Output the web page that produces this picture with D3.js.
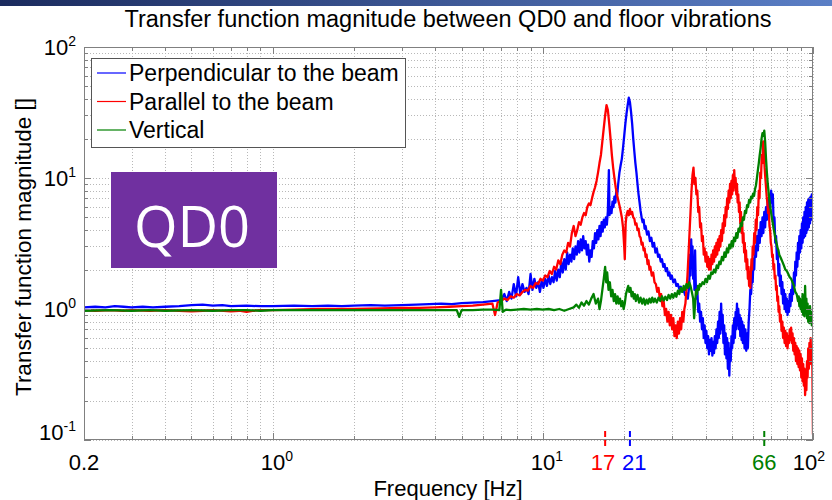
<!DOCTYPE html>
<html><head><meta charset="utf-8">
<script src="https://cdn.jsdelivr.net/npm/d3@7"></script>
<style>body{margin:0;background:#fff}svg{display:block}text{font-family:"Liberation Sans",Arial,sans-serif}</style>
</head><body><svg id="c" width="832" height="500"></svg>
<script>
const title = "Transfer function magnitude between QD0 and floor vibrations";
const xLabel = "Frequency [Hz]";
const yLabel = "Transfer function magnitude []";
const seriesNames = ["Perpendicular to the beam","Parallel to the beam","Vertical"];
const seriesColors = ["#0000ff","#ff0000","#008000"];
const xTickValues = [0.2,1,10,100];
const xTickLabels = [["0.2",""],["10","0"],["10","1"],["10","2"]];
const yTickValues = [0.1,1,10,100];
const yTickExp = ["-1","0","1","2"];
const markFreqs = [17,21,66];
const markLabels = ["17","21","66"];
const markColors = ["#ff0000","#0000ff","#008000"];
const boxLabel = "QD0";

const blue = [[0.2,1.03],[0.22,1.04],[0.24,1.03],[0.26,1.05],[0.28,1.04],[0.3,1.03],[0.33,1.04],[0.36,1.03],[0.4,1.04],[0.45,1.05],[0.5,1.07],[0.55,1.08],[0.6,1.06],[0.65,1.07],[0.7,1.05],[0.8,1.06],[0.9,1.05],[1.0,1.05],[1.2,1.06],[1.4,1.05],[1.6,1.06],[1.8,1.05],[2.0,1.06],[2.3,1.07],[2.6,1.06],[3.0,1.07],[3.4,1.08],[3.8,1.09],[4.2,1.1],[4.6,1.09],[5.0,1.11],[5.5,1.12],[6.0,1.13],[6.5,1.15],
[7.0,1.17],[7.2,1.3],[7.35,1.15],[7.5,1.35],[7.65,1.2],[7.8,1.55],[7.95,1.25],[8.1,1.75],[8.25,1.3],[8.4,1.55],[8.55,1.35],[8.7,1.45],[8.85,1.3],[9.0,1.85],[9.15,1.4],[9.3,1.7],[9.45,1.45],[9.6,1.6],[9.75,1.35],[9.9,1.65],[10.05,1.45],[10.2,1.7],[10.35,1.5],[10.5,1.8],[10.65,1.55],[10.8,1.75],[10.95,1.6],[11.1,1.95],[11.25,1.65],[11.4,2.0],[11.55,1.75],[11.7,2.3],[11.85,1.9],[12.0,2.4],[12.15,2.0],[12.3,2.7],[12.45,2.2],[12.6,2.6],[12.75,2.3],[12.9,2.9],[13.05,2.4],[13.2,3.0],[13.35,2.6],[13.5,3.3],[13.65,2.7],[13.8,3.4],[13.95,2.8],[14.1,3.6],[14.25,2.9],[14.4,3.3],[14.55,2.6],[14.7,3.1],[14.85,2.3],[15.0,2.8],[15.15,2.5],[15.3,3.3],[15.45,2.9],[15.6,3.8],[15.75,3.2],[15.9,4.0],[16.05,3.4],[16.2,4.3],[16.35,3.6],[16.5,4.6],[16.65,3.9],[16.8,4.8],[16.95,4.2],[17.1,5.0],[17.25,4.4],[17.4,5.6],[17.55,11.5],[17.65,5.2],[17.8,6.0],[17.95,5.4],[18.1,6.6],[18.25,6.0],[18.4,7.2],[18.55,6.5],[18.7,8.0],[18.85,7.5],[19.0,9.0],[19.2,11],[19.4,12.5],[19.6,14],[19.8,17],[20.0,21],[20.2,26],[20.4,31],[20.6,36],[20.8,41],[21.0,38],[21.2,32],[21.4,26],[21.6,20],[21.8,16],[22.0,13],[22.2,11],[22.4,9],[22.6,7.5],[22.8,6.5],[23.0,5.6],[23.2,5.0],[23.4,4.6],[23.6,4.8],[23.8,4.1],[24.0,4.3],[24.3,3.7],[24.6,3.9],[24.9,3.3],[25.2,3.5],[25.5,3.0],[25.8,3.2],[26.1,2.7],[26.4,2.9],[26.7,2.5],[27.0,2.6],[27.3,2.3],[27.6,2.4],[27.9,2.1],[28.2,2.2],[28.5,1.95],[28.8,2.05],[29.1,1.8],[29.4,1.9],[29.7,1.7],[30.0,1.8],[30.4,1.6],[30.8,1.68],[31.2,1.5],[31.6,1.55],[32.0,1.42],[32.4,1.48],[32.8,1.35],[33.2,1.4],[33.6,1.28],[34.0,1.32],[34.4,1.2],[34.8,1.5],[35.0,2.6],[35.2,1.8],[35.4,3.4],[35.6,2.4],[35.8,3.0],[36.0,1.7],[36.2,2.2],[36.4,1.4],[36.6,2.8],[36.8,1.6],[37.0,1.2],[37.3,1.4],[37.6,0.95],[37.9,1.1],[38.2,0.8],[38.5,0.95],[38.8,0.7],[39.1,0.85],[39.4,0.6],[39.7,0.75],[40.0,0.55],[40.3,0.68],[40.6,0.5],[40.9,0.62],[41.2,0.45],[41.5,0.58],[41.8,0.48],[42.1,0.6],[42.4,0.44],[42.7,0.56],[43.0,0.46],[43.3,0.62],[43.6,0.5],[43.9,0.7],[44.2,0.55],[44.5,0.8],[44.8,0.6],[45.1,0.95],[45.4,0.65],[45.7,1.1],[46.0,0.7],[46.3,0.9],[46.6,0.55],[46.9,0.75],[47.2,0.45],[47.5,0.65],[47.8,0.42],[48.1,0.6],[48.4,0.35],[48.7,0.55],[49.0,0.31],[49.3,0.5],[49.6,0.4],[49.9,0.62],[50.2,0.5],[50.5,0.75],[50.8,0.55],[51.1,0.85],[51.4,0.6],[51.7,0.95],[52.0,0.7],[52.3,1.1],[52.6,0.75],[52.9,1.0],[53.2,0.7],[53.5,0.9],[53.8,0.62],[54.1,0.85],[54.4,0.58],[54.7,0.8],[55.0,0.55],[55.4,0.75],[55.8,0.5],[56.2,0.7],[56.6,0.48],[57.0,0.65],[57.4,0.5],[57.8,0.8],[58.2,1.0],[58.6,1.4],[59.0,1.3],[59.4,1.8],[59.8,1.6],[60.2,2.4],[60.6,2.0],[61.0,3.0],[61.5,2.5],[62.0,3.6],[62.5,2.8],[63.0,4.0],[63.5,3.2],[64.0,4.6],[64.5,3.6],[65.0,5.0],[65.5,3.8],[66.0,5.5],[66.5,4.2],[67.0,6.0],[67.5,4.8],[68.0,6.8],[68.5,5.2],[69.0,7.2],[69.5,6.0],[70.0,8.0],[70.5,6.5],[71.0,7.5],[71.5,4.5],[72.0,5.0],[72.5,3.2],[73.0,3.6],[73.5,2.4],[74.0,2.8],[74.5,1.8],[75.0,2.2],[75.5,1.5],[76.0,1.8],[76.5,1.3],[77.0,1.6],[77.5,1.1],[78.0,1.4],[78.5,1.0],[79.0,1.3],[79.5,0.95],[80.0,1.2],[80.5,0.9],[81.0,1.15],[81.5,0.95],[82.0,1.3],[82.5,1.05],[83.0,1.4],[83.5,1.15],[84.0,1.6],[84.5,1.3],[85.0,1.9],[85.5,1.5],[86.0,2.3],[86.5,1.8],[87.0,2.7],[87.5,2.1],[88.0,3.2],[88.5,2.4],[89.0,3.6],[89.5,2.7],[90.0,4.0],[90.5,2.9],[91.0,4.5],[91.5,3.2],[92.0,5.0],[92.5,3.5],[93.0,5.5],[93.5,3.6],[94.0,6.0],[94.5,3.8],[95.0,6.5],[95.5,4.0],[96.0,6.8],[96.5,4.2],[97.0,7.0],[97.5,4.5],[98.0,7.2],[98.5,4.8],[99.0,7.5],[99.5,5.0],[100,6.5]];

const red = [[0.2,0.98],[0.22,0.97],[0.25,0.98],[0.28,0.97],[0.3,0.98],[0.35,0.97],[0.4,0.98],[0.45,0.97],[0.5,0.96],[0.55,0.97],[0.6,0.98],[0.7,0.96],[0.75,0.97],[0.8,0.95],[0.85,0.97],[0.9,0.98],[1.0,0.98],[1.2,0.99],[1.5,1.0],[2,1.0],[2.5,1.01],[3,1.02],[3.5,1.02],[4,1.03],[4.5,1.04],[5,1.05],[5.5,1.06],[6,1.08],
[6.5,1.1],[6.65,0.9],[6.8,1.12],[7.0,1.15],[7.2,1.2],[7.4,1.17],[7.6,1.25],[7.8,1.22],[8.0,1.3],[8.2,1.27],[8.4,1.35],[8.6,1.4],[8.8,1.38],[9.0,1.5],[9.2,1.45],[9.4,1.58],[9.6,1.55],[9.8,1.7],[10.0,1.65],[10.2,1.8],[10.4,1.75],[10.6,1.95],[10.8,1.85],[11.0,2.1],[11.2,2.0],[11.4,2.35],[11.6,2.2],[11.8,2.6],[12.0,2.8],[12.2,2.7],[12.4,3.2],[12.6,3.0],[12.8,3.8],[13.0,4.3],[13.2,3.6],[13.4,4.0],[13.6,4.6],[13.8,4.4],[14.0,5.0],[14.2,5.4],[14.4,5.2],[14.6,6.0],[14.8,6.4],[15.0,6.2],[15.2,7.0],[15.4,7.8],[15.6,8.5],[15.8,9.5],[16.0,11],[16.2,13],[16.4,15],[16.6,19],[16.8,24],[17.0,30],[17.2,36],[17.4,33],[17.6,26],[17.8,20],[18.0,15],[18.2,12],[18.4,10],[18.6,8.5],[18.8,7.5],[19.0,6.8],[19.2,6.2],[19.4,5.6],[19.6,5.0],[19.8,4.2],[20.0,3.0],[20.1,2.4],[20.25,4.5],[20.4,5.2],[20.6,5.6],[20.8,5.2],[21.0,5.8],[21.2,5.3],[21.4,5.5],[21.6,5.0],[21.8,4.9],[22.0,4.4],[22.2,4.5],[22.4,4.0],[22.6,4.1],[22.8,3.6],[23.0,3.5],[23.2,3.1],[23.4,3.2],[23.6,2.8],[23.8,2.9],[24.0,2.5],[24.2,2.6],[24.4,2.2],[24.6,2.35],[24.8,2.0],[25.0,2.1],[25.3,1.8],[25.6,1.9],[25.9,1.6],[26.2,1.55],[26.5,1.35],[26.8,1.45],[27.1,1.2],[27.4,1.3],[27.7,1.05],[28.0,1.15],[28.3,0.9],[28.6,1.0],[28.9,0.8],[29.2,0.95],[29.5,0.75],[29.8,0.9],[30.1,0.7],[30.4,0.85],[30.7,0.62],[31.0,0.75],[31.3,0.6],[31.6,0.8],[31.9,0.65],[32.2,0.85],[32.5,0.7],[32.8,0.95],[33.1,0.8],[33.4,1.0],[33.7,1.1],[34.0,1.4],[34.3,1.8],[34.6,2.6],[34.9,3.8],[35.2,5.5],[35.5,8],[35.8,10.5],[36.1,12],[36.4,9],[36.7,10],[37.0,7.5],[37.3,8],[37.6,5.5],[37.9,6],[38.2,4.2],[38.5,4.5],[38.8,3.3],[39.1,3.6],[39.4,2.6],[39.7,2.9],[40.0,2.3],[40.3,2.7],[40.6,2.1],[40.9,2.5],[41.2,2.0],[41.5,2.4],[41.8,2.0],[42.1,2.6],[42.4,2.2],[42.7,2.8],[43.0,2.3],[43.3,3.0],[43.6,2.5],[43.9,3.2],[44.2,2.6],[44.5,3.4],[44.8,2.8],[45.1,3.6],[45.4,3.0],[45.7,4.0],[46.0,3.3],[46.3,4.5],[46.6,3.8],[46.9,5.2],[47.2,4.3],[47.5,6.0],[47.8,5.0],[48.1,7.0],[48.4,5.8],[48.7,8.0],[49.0,6.5],[49.3,9.0],[49.6,7.0],[49.9,9.5],[50.2,7.5],[50.5,10.5],[50.8,8.0],[51.1,11.5],[51.4,8.5],[51.7,10],[52.0,7.5],[52.3,9],[52.6,6.5],[52.9,7.5],[53.2,5.5],[53.5,6.5],[53.8,4.5],[54.1,5.5],[54.4,3.8],[54.7,4.5],[55.0,3.2],[55.3,3.8],[55.6,2.7],[55.9,3.2],[56.2,2.3],[56.5,2.8],[56.8,2.0],[57.1,2.4],[57.4,1.7],[57.7,2.1],[58.0,1.5],[58.3,1.8],[58.6,1.45],[58.9,1.9],[59.2,2.4],[59.5,2.0],[59.8,3.0],[60.2,2.6],[60.6,3.8],[61.0,3.2],[61.4,4.8],[61.8,4.0],[62.2,6.0],[62.6,5.2],[63.0,8.0],[63.4,7.0],[63.8,11],[64.2,10],[64.6,15],[65.0,13],[65.4,19],[65.8,16],[66.2,12],[66.6,10],[67.0,8.5],[67.4,7.2],[67.8,6.4],[68.2,5.4],[68.6,5.8],[69.0,4.3],[69.4,4.0],[69.8,3.2],[70.2,3.0],[70.6,2.5],[71.0,2.6],[71.4,2.0],[71.8,2.2],[72.2,1.7],[72.6,1.8],[73.0,1.4],[73.4,1.5],[73.8,1.15],[74.2,1.25],[74.6,0.95],[75.0,1.05],[75.5,0.8],[76.0,0.9],[76.5,0.68],[77.0,0.8],[77.5,0.6],[78.0,0.72],[78.5,0.55],[79.0,0.68],[79.5,0.52],[80.0,0.65],[80.5,0.5],[81.0,0.62],[81.5,0.55],[82.0,0.7],[82.5,0.58],[83.0,0.72],[83.5,0.55],[84.0,0.65],[84.5,0.48],[85.0,0.6],[85.5,0.45],[86.0,0.55],[86.5,0.4],[87.0,0.52],[87.5,0.38],[88.0,0.5],[88.5,0.36],[89.0,0.48],[89.5,0.34],[90.0,0.45],[90.5,0.3],[91.0,0.42],[91.5,0.28],[92.0,0.38],[92.5,0.26],[93.0,0.35],[93.5,0.22],[94.0,0.3],[94.5,0.24],[95.0,0.4],[95.5,0.3],[96.0,0.5],[96.5,0.35],[97.0,0.55],[97.5,0.38],[98.0,0.6],[98.5,0.4],[99.0,0.5],[99.5,0.35],[100,0.11]];

const green = [[0.2,0.97],[0.25,0.98],[0.3,0.97],[0.35,0.98],[0.4,0.97],[0.5,0.98],[0.6,0.97],[0.7,0.98],[0.8,0.98],[0.9,0.97],[1,0.98],[1.3,0.98],[1.6,0.98],[2,0.98],[2.5,0.98],[3,0.98],[3.5,0.98],[4,0.98],[4.5,0.98],[4.8,0.98],[4.9,0.87],[5.0,0.98],[5.5,0.98],[6,0.99],[6.5,0.99],[6.9,0.98],[7.0,1.4],[7.1,0.95],[7.3,0.99],[7.6,0.98],[8,0.99],[8.5,1.0],[9,0.99],[9.5,1.0],[10,0.99],[10.5,1.0],[11,0.98],[11.5,1.0],[12,0.97],[12.5,1.0],
[13,1.03],[13.3,1.08],[13.6,1.02],[13.9,1.12],[14.2,1.06],[14.5,1.15],[14.8,1.08],[15.1,1.2],[15.4,1.3],[15.7,1.1],[16.0,1.2],[16.2,1.0],[16.4,1.15],[16.6,1.4],[16.8,1.7],[17.0,2.1],[17.15,1.6],[17.3,1.9],[17.5,1.4],[17.7,1.6],[17.9,1.25],[18.1,1.4],[18.3,1.15],[18.5,1.3],[18.7,1.1],[18.9,1.25],[19.1,1.1],[19.3,1.2],[19.5,1.05],[19.7,1.15],[19.9,1.0],[20.1,1.1],[20.3,1.3],[20.5,1.4],[20.7,1.5],[20.9,1.35],[21.1,1.45],[21.3,1.25],[21.5,1.35],[21.7,1.2],[21.9,1.3],[22.1,1.15],[22.4,1.28],[22.7,1.12],[23.0,1.22],[23.3,1.1],[23.6,1.2],[23.9,1.08],[24.2,1.18],[24.5,1.1],[24.8,1.2],[25.1,1.12],[25.4,1.22],[25.7,1.13],[26.0,1.2],[26.4,1.12],[26.8,1.22],[27.2,1.15],[27.6,1.25],[28.0,1.16],[28.4,1.24],[28.8,1.17],[29.2,1.28],[29.6,1.2],[30.0,1.3],[30.4,1.22],[30.8,1.32],[31.2,1.24],[31.6,1.38],[32.0,1.3],[32.4,1.45],[32.8,1.35],[33.2,1.5],[33.6,1.4],[34.0,1.55],[34.4,1.45],[34.8,1.6],[35.2,1.5],[35.6,1.35],[36.0,1.2],[36.3,0.85],[36.6,1.1],[36.9,1.4],[37.2,1.3],[37.5,1.5],[37.8,1.4],[38.1,1.55],[38.5,1.5],[39.0,1.6],[39.5,1.55],[40,1.7],[40.5,1.6],[41,1.8],[41.5,1.7],[42,1.9],[42.5,1.85],[43,2.0],[43.5,1.9],[44,2.15],[44.5,2.05],[45,2.3],[45.5,2.2],[46,2.5],[46.5,2.35],[47,2.7],[47.5,2.5],[48,2.9],[48.5,2.7],[49,3.1],[49.5,2.9],[50,3.3],[50.5,3.0],[51,3.5],[51.5,3.3],[52,3.8],[52.5,3.5],[53,4.1],[53.5,3.9],[54,4.5],[54.5,4.3],[55,5.0],[55.5,4.8],[56,5.6],[56.5,5.4],[57,6.2],[57.5,6.0],[58,6.8],[58.5,6.5],[59,7.2],[59.5,7.0],[60,7.6],[60.5,7.3],[61,8.2],[61.5,8.8],[62,10],[62.5,11.5],[63,13],[63.5,15],[64,17],[64.5,20],[65,22],[65.5,21],[66,23],[66.5,19],[67,14],[67.5,11],[68,9],[68.5,7.8],[69,6.8],[69.5,6],[70,5.4],[70.5,4.9],[71,4.5],[71.5,4.1],[72,3.8],[72.5,3.5],[73,3.3],[73.5,3.1],[74,2.9],[74.5,2.8],[75,2.6],[76,2.45],[77,2.3],[78,2.15],[79,2.0],[80,1.95],[81,1.85],[82,1.75],[83,1.7],[84,1.6],[85,1.5],[86,1.35],[87,1.3],[88,1.15],[88.5,1.25],[89,1.05],[89.5,1.2],[90,1.0],[90.5,1.1],[91,0.95],[91.5,1.3],[92,0.9],[92.5,1.15],[93,0.88],[93.5,1.5],[94,0.95],[94.5,1.2],[95,0.85],[95.5,1.1],[96,0.8],[96.5,1.0],[97,0.78],[97.5,1.05],[98,0.8],[98.5,0.95],[99,0.75],[99.5,0.9],[100,0.8]];

const series = [blue, red, green];

const svg = d3.select("#c");
const L=84,R=813,T=47,B=440;
const x = d3.scaleLog().domain([0.2,100]).range([L,R]);
const y = d3.scaleLog().domain([0.1,100]).range([B,T]);

const defs = svg.append("defs");
const g1 = defs.append("linearGradient").attr("id","band");
g1.append("stop").attr("offset","0").attr("stop-color","#1b2b5e");
g1.append("stop").attr("offset","1").attr("stop-color","#5b7fc6");
svg.append("rect").attr("x",0).attr("y",0).attr("width",832).attr("height",6).attr("fill","url(#band)");
defs.append("clipPath").attr("id","clip").append("rect").attr("x",L).attr("y",T).attr("width",R-L).attr("height",B-T);

svg.append("rect").attr("x",L).attr("y",T).attr("width",R-L).attr("height",B-T).attr("fill","#fff");

const xg = x.ticks().filter(v=>v>=0.2-1e-9);
const yg = y.ticks();
const grid = svg.append("g").attr("stroke","#b8b8b8").attr("stroke-width",1).attr("stroke-dasharray","1,2");
grid.selectAll("line.xg").data(xg).join("line").attr("x1",d=>Math.round(x(d))+0.5).attr("x2",d=>Math.round(x(d))+0.5).attr("y1",T).attr("y2",B);
grid.selectAll("line.yg").data(yg).join("line").attr("y1",d=>Math.round(y(d))+0.5).attr("y2",d=>Math.round(y(d))+0.5).attr("x1",L).attr("x2",R);

const line = d3.line().x(d=>x(d[0])).y(d=>y(d[1]));
const cg = svg.append("g").attr("clip-path","url(#clip)");
series.forEach((s,i)=>{
  cg.append("path").datum(s).attr("d",line).attr("fill","none").attr("stroke",seriesColors[i]).attr("stroke-width",2.3).attr("stroke-linejoin","round");
});

const ax = svg.append("g").attr("stroke","#808080").attr("stroke-width",1);
ax.append("rect").attr("x",L+0.5).attr("y",T+0.5).attr("width",R-L-1).attr("height",B-T-1).attr("fill","none");
const isMajor = v => Math.abs(Math.log10(v)-Math.round(Math.log10(v)))<1e-6;
xg.forEach(v=>{const len=isMajor(v)?7:4;const px=Math.round(x(v))+0.5;
  ax.append("line").attr("x1",px).attr("x2",px).attr("y1",B).attr("y2",B-len);
  ax.append("line").attr("x1",px).attr("x2",px).attr("y1",T).attr("y2",T+len);});
yg.forEach(v=>{const len=isMajor(v)?7:4;const py=Math.round(y(v))+0.5;
  ax.append("line").attr("y1",py).attr("y2",py).attr("x1",L).attr("x2",L+len);
  ax.append("line").attr("y1",py).attr("y2",py).attr("x1",R).attr("x2",R-len);});

const fs=22;
yTickValues.forEach((v,i)=>{
  const t=svg.append("text").attr("x",76).attr("y",y(v)+8 - (i===0?8:0)).attr("text-anchor","end").attr("font-size",fs).attr("fill","#000");
  t.append("tspan").text("10");
  t.append("tspan").attr("dy",-9).attr("font-size",14).text(yTickExp[i]);
});
const xShift=[0,4,4,-4];
xTickValues.forEach((v,i)=>{
  const t=svg.append("text").attr("x",x(v)+xShift[i]).attr("y",470).attr("text-anchor","middle").attr("font-size",fs).attr("fill","#000");
  t.append("tspan").text(xTickLabels[i][0]);
  if(xTickLabels[i][1]) t.append("tspan").attr("dy",-9).attr("font-size",14).text(xTickLabels[i][1]);
});
const markAnchor=["end","start","middle"], markDx=[10,-8,0];
markFreqs.forEach((f,i)=>{
  svg.append("line").attr("x1",x(f)).attr("x2",x(f)).attr("y1",431).attr("y2",447).attr("stroke",markColors[i]).attr("stroke-width",2).attr("stroke-dasharray","6,3");
  svg.append("text").attr("x",x(f)+markDx[i]).attr("y",470).attr("text-anchor",markAnchor[i]).attr("font-size",fs).attr("fill",markColors[i]).text(markLabels[i]);
});

svg.append("text").attr("x",448).attr("y",27).attr("text-anchor","middle").attr("font-size",23.5).text(title);
svg.append("text").attr("x",448).attr("y",496).attr("text-anchor","middle").attr("font-size",22).text(xLabel);
svg.append("text").attr("transform","translate(31,247) rotate(-90)").attr("text-anchor","middle").attr("font-size",22.5).text(yLabel);

const lg = svg.append("g");
lg.append("rect").attr("x",91.5).attr("y",58.5).attr("width",314).attr("height",89).attr("fill","#fff").attr("stroke","#555").attr("stroke-width",1);
seriesNames.forEach((n,i)=>{
  const yy=73+i*28.5;
  lg.append("line").attr("x1",97).attr("x2",126).attr("y1",yy).attr("y2",yy).attr("stroke",seriesColors[i]).attr("stroke-width",1.2);
  lg.append("text").attr("x",129).attr("y",yy+8).attr("font-size",23).text(n);
});

svg.append("rect").attr("x",111).attr("y",172).attr("width",166).attr("height",96).attr("fill","#7030a0");
svg.append("text").attr("x",192).attr("y",247).attr("text-anchor","middle").attr("font-size",56).attr("fill","#fff").style("font-family","'Open Sans',sans-serif").text(boxLabel);
</script></body></html>
